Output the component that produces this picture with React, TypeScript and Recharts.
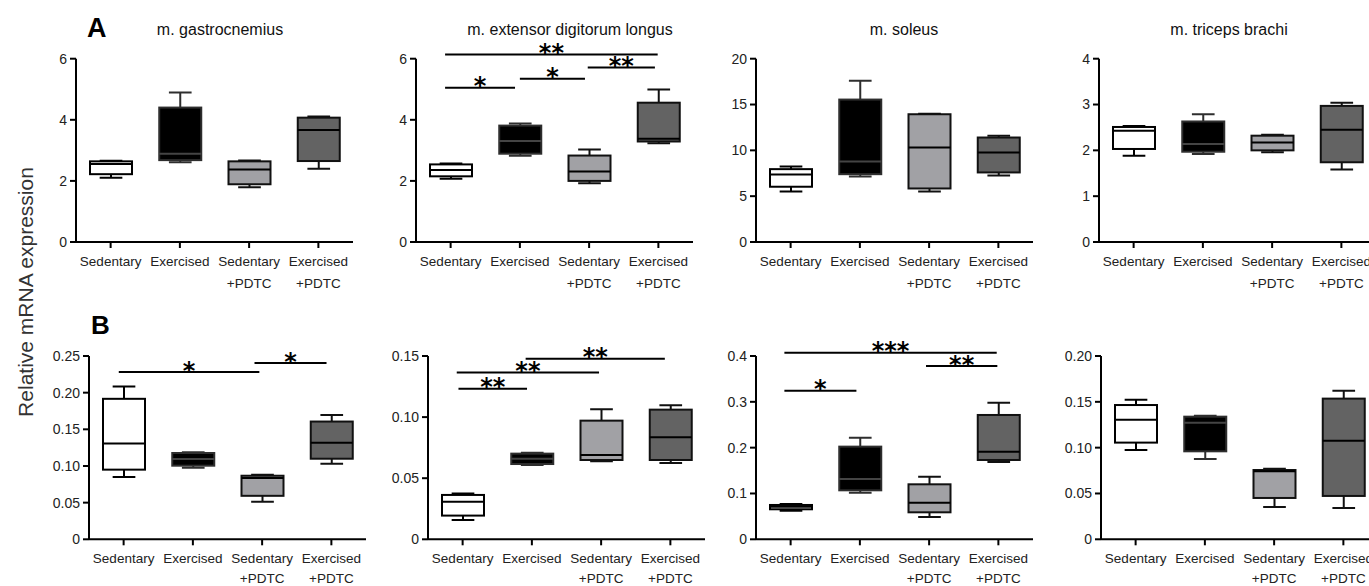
import React from 'react';
import { ComposedChart, Bar, XAxis, YAxis, ReferenceLine } from 'recharts';

// ---------- data ----------
const categories = ['Sedentary', 'Exercised', 'Sedentary|+PDTC', 'Exercised|+PDTC'];

// five-number summaries per group: [min, q1, median, q3, max]
const gastrocnemius = [
  [2.1, 2.22, 2.55, 2.64, 2.66],
  [2.61, 2.68, 2.89, 4.4, 4.89],
  [1.79, 1.89, 2.37, 2.64, 2.67],
  [2.4, 2.65, 3.67, 4.07, 4.11],
];
const extensorDigitorum = [
  [2.07, 2.15, 2.36, 2.54, 2.57],
  [2.82, 2.89, 3.31, 3.81, 3.88],
  [1.92, 2.0, 2.31, 2.83, 3.03],
  [3.23, 3.29, 3.38, 4.56, 4.99],
];
const soleus = [
  [5.52, 6.03, 7.37, 7.95, 8.24],
  [7.15, 7.4, 8.78, 15.54, 17.6],
  [5.52, 5.84, 10.31, 13.94, 14.0],
  [7.26, 7.59, 9.76, 11.4, 11.58],
];
const tricepsBrachi = [
  [1.88, 2.03, 2.43, 2.51, 2.53],
  [1.92, 1.97, 2.14, 2.63, 2.79],
  [1.96, 2.0, 2.17, 2.32, 2.34],
  [1.58, 1.74, 2.45, 2.97, 3.04],
];
const gastrocnemiusB = [
  [0.085, 0.095, 0.1305, 0.1916, 0.2085],
  [0.0976, 0.1004, 0.1095, 0.1177, 0.1186],
  [0.0511, 0.0593, 0.0835, 0.0867, 0.088],
  [0.1031, 0.1099, 0.1318, 0.1606, 0.1697],
];
const extensorDigitorumB = [
  [0.0158, 0.0194, 0.0308, 0.0363, 0.0374],
  [0.0608, 0.0616, 0.066, 0.0701, 0.0709],
  [0.0638, 0.0649, 0.069, 0.0971, 0.1064],
  [0.0625, 0.0649, 0.0835, 0.1061, 0.1096],
];
const soleusB = [
  [0.0625, 0.0655, 0.0713, 0.0749, 0.0771],
  [0.1018, 0.1069, 0.1316, 0.2022, 0.2218],
  [0.0485, 0.0589, 0.08, 0.12, 0.1367],
  [0.1687, 0.1731, 0.1913, 0.2713, 0.2982],
];
const tricepsBrachiB = [
  [0.0975, 0.1055, 0.1305, 0.1465, 0.1524],
  [0.0876, 0.096, 0.1273, 0.1338, 0.1349],
  [0.0353, 0.0451, 0.0742, 0.0756, 0.0771],
  [0.0342, 0.0473, 0.1076, 0.1535, 0.1622],
];

// y ticks and their labels
const ticksA = [0, 2, 4, 6];
const ticksALabels = ['0', '2', '4', '6'];
const ticksSoleus = [0, 5, 10, 15, 20];
const ticksSoleusLabels = ['0', '5', '10', '15', '20'];
const ticksTriceps = [0, 1, 2, 3, 4];
const ticksTricepsLabels = ['0', '1', '2', '3', '4'];
const ticksB1 = [0, 0.05, 0.1, 0.15, 0.2, 0.25];
const ticksB1Labels = ['0', '0.05', '0.10', '0.15', '0.20', '0.25'];
const ticksB2 = [0, 0.05, 0.1, 0.15];
const ticksB2Labels = ['0', '0.05', '0.10', '0.15'];
const ticksB3 = [0, 0.1, 0.2, 0.3, 0.4];
const ticksB3Labels = ['0', '0.1', '0.2', '0.3', '0.4'];
const ticksB4 = [0, 0.05, 0.1, 0.15, 0.2];
const ticksB4Labels = ['0', '0.05', '0.10', '0.15', '0.20'];

// significance brackets: [fromGroup, toGroup, yValue, stars]
const bracketsEDL = [
  [-0.08, 0.93, 5.05, '*'],
  [1.0, 1.94, 5.34, '*'],
  [1.98, 2.95, 5.71, '**'],
  [-0.08, 2.99, 6.14, '**'],
];
const bracketsB1 = [
  [-0.07, 1.96, 0.2281, '*'],
  [1.89, 2.93, 0.2404, '*'],
];
const bracketsB2 = [
  [-0.06, 0.93, 0.1233, '**'],
  [-0.085, 1.97, 0.1364, '**'],
  [0.91, 2.92, 0.1478, '**'],
];
const bracketsB3 = [
  [-0.09, 0.95, 0.3244, '*'],
  [-0.09, 2.976, 0.4073, '***'],
  [1.955, 2.985, 0.378, '**'],
];

const titles = ['m. gastrocnemius', 'm. extensor digitorum longus', 'm. soleus', 'm. triceps brachi'];

// ---------- styles ----------
const FONT = "'Liberation Sans', Arial, Helvetica, sans-serif";
const STAR_FONT = "'DejaVu Sans', sans-serif";
const boxFill = ['#ffffff', '#000000', '#a1a1a5', '#636363'];
const boxStroke = ['#000000', '#2e2e2e', '#111111', '#111111'];
const medianStroke = ['#000000', '#444444', '#000000', '#000000'];

const CHART_W = 357;
const YAXIS_W = 70;

type PanelCfg = {
  stats: number[][];
  ticks: number[];
  tickLabels: string[];
  max: number;
  brackets: any[];
  axisX: number;
  top: number;
  height: number;
  mTop: number;
  mBottom: number;
  lineGap: number;
};

const rowA = { top: 0, height: 300, mTop: 58.7, mBottom: 28, lineGap: 22 };
const rowB = { top: 296, height: 290, mTop: 60, mBottom: 16.7, lineGap: 20 };

const panels: PanelCfg[] = [
  { stats: gastrocnemius, ticks: ticksA, tickLabels: ticksALabels, max: 6, brackets: [], axisX: 76, ...rowA },
  { stats: extensorDigitorum, ticks: ticksA, tickLabels: ticksALabels, max: 6, brackets: bracketsEDL, axisX: 416, ...rowA },
  { stats: soleus, ticks: ticksSoleus, tickLabels: ticksSoleusLabels, max: 20, brackets: [], axisX: 756, ...rowA },
  { stats: tricepsBrachi, ticks: ticksTriceps, tickLabels: ticksTricepsLabels, max: 4, brackets: [], axisX: 1099, ...rowA },
  { stats: gastrocnemiusB, ticks: ticksB1, tickLabels: ticksB1Labels, max: 0.25, brackets: bracketsB1, axisX: 89, ...rowB },
  { stats: extensorDigitorumB, ticks: ticksB2, tickLabels: ticksB2Labels, max: 0.15, brackets: bracketsB2, axisX: 428, ...rowB },
  { stats: soleusB, ticks: ticksB3, tickLabels: ticksB3Labels, max: 0.4, brackets: bracketsB3, axisX: 756, ...rowB },
  { stats: tricepsBrachiB, ticks: ticksB4, tickLabels: ticksB4Labels, max: 0.2, brackets: [], axisX: 1101, ...rowB },
];

const titleCenters = [220, 570, 904, 1229];

// ---------- components ----------
const XTick = (props: any) => {
  const { x, y, payload, lineGap } = props;
  const parts = String(payload.value).split('|');
  return (
    <g transform={`translate(${x},${y})`}>
      <text textAnchor="middle" fontFamily={FONT} fontSize={13.5} fill="#222">
        <tspan x={0} dy={16}>{parts[0]}</tspan>
        {parts[1] ? <tspan x={0} dy={lineGap}>{parts[1]}</tspan> : null}
      </text>
    </g>
  );
};

const BoxShape = (props: any) => {
  const { x, y, width, height, payload } = props;
  let index = props.index;
  if (typeof index !== 'number') index = categories.indexOf(payload.name);
  const [mn, q1, md, q3, mx] = payload.stats as number[];
  const top = Math.min(y, y + height);
  const h = Math.abs(height);
  const px = (v: number) => top + (h * (mx - v)) / (mx - mn);
  const cx = x + width / 2;
  const cap = width * 0.27;
  const st = boxStroke[index];
  return (
    <g>
      <line x1={cx} x2={cx} y1={px(mx)} y2={px(q3)} stroke={st} strokeWidth={2} />
      <line x1={cx} x2={cx} y1={px(q1)} y2={px(mn)} stroke={st} strokeWidth={2} />
      <line x1={cx - cap} x2={cx + cap} y1={px(mx)} y2={px(mx)} stroke={st} strokeWidth={2} />
      <line x1={cx - cap} x2={cx + cap} y1={px(mn)} y2={px(mn)} stroke={st} strokeWidth={2} />
      <rect x={x} y={px(q3)} width={width} height={px(q1) - px(q3)} fill={boxFill[index]} stroke={st} strokeWidth={2} />
      <line x1={x} x2={x + width} y1={px(md)} y2={px(md)} stroke={medianStroke[index]} strokeWidth={2} />
    </g>
  );
};

// bracket drawn between category centres, nudged by fractional group offsets
const Bracket = (props: any) => {
  const { x1, x2, y1, from, to, fi, ti, stars } = props;
  if (![x1, x2, y1].every((v) => typeof v === 'number' && isFinite(v))) return null;
  const band = ti !== fi ? (x2 - x1) / (ti - fi) : 69;
  const a = x1 + (from - fi) * band;
  const b = x2 + (to - ti) * band;
  return (
    <g>
      <line x1={a} x2={b} y1={y1} y2={y1} stroke="#000" strokeWidth={2} />
      <text
        x={(a + b) / 2}
        y={y1 + 6.5}
        textAnchor="middle"
        fontFamily={STAR_FONT}
        fontWeight="bold"
        fontSize={24}
        fill="#000"
      >
        {stars}
      </text>
    </g>
  );
};

const Panel = ({ cfg }: { cfg: PanelCfg }) => {
  const data = categories.map((c, i) => ({
    name: c,
    range: [cfg.stats[i][0], cfg.stats[i][4]],
    stats: cfg.stats[i],
  }));
  const fmt = (v: number) => {
    const i = cfg.ticks.findIndex((t) => Math.abs(t - v) < 1e-9);
    return i >= 0 ? cfg.tickLabels[i] : String(v);
  };
  return (
    <div style={{ position: 'absolute', left: cfg.axisX - YAXIS_W, top: cfg.top, width: CHART_W, height: cfg.height }}>
      <ComposedChart
        width={CHART_W}
        height={cfg.height}
        data={data}
        margin={{ top: cfg.mTop, right: CHART_W - YAXIS_W - 277, bottom: cfg.mBottom, left: 0 }}
      >
        <XAxis
          dataKey="name"
          interval={0}
          height={30}
          tickSize={6}
          tick={(p: any) => <XTick {...p} lineGap={cfg.lineGap} />}
          axisLine={{ stroke: '#000', strokeWidth: 2 }}
          tickLine={{ stroke: '#000', strokeWidth: 2 }}
        />
        <YAxis
          width={YAXIS_W}
          domain={[0, cfg.max]}
          ticks={cfg.ticks}
          interval={0}
          tickSize={6}
          tickMargin={3}
          tickFormatter={fmt}
          tick={{ fontSize: 14, fill: '#222', fontFamily: FONT }}
          axisLine={{ stroke: '#000', strokeWidth: 2 }}
          tickLine={{ stroke: '#000', strokeWidth: 2 }}
          allowDataOverflow
        />
        <Bar dataKey="range" barSize={42} isAnimationActive={false} shape={(p: any) => <BoxShape {...p} />} />
        {cfg.brackets.map((b, k) => {
          const fi = Math.round(b[0]);
          const ti = Math.round(b[1]);
          return (
            <ReferenceLine
              key={k}
              ifOverflow="visible"
              segment={[
                { x: categories[fi], y: b[2] },
                { x: categories[ti], y: b[2] },
              ]}
              shape={(p: any) => <Bracket {...p} from={b[0]} to={b[1]} fi={fi} ti={ti} stars={b[3]} />}
            />
          );
        })}
      </ComposedChart>
    </div>
  );
};

export default function App() {
  return (
    <div style={{ position: 'absolute', left: 0, top: 0, width: 1369, height: 586, background: '#fff', overflow: 'hidden' }}>
      {panels.map((p, i) => (
        <Panel key={i} cfg={p} />
      ))}
      <svg width={1369} height={586} style={{ position: 'absolute', left: 0, top: 0, pointerEvents: 'none' }}>
        <text x={87} y={37} fontFamily={FONT} fontWeight="bold" fontSize={27} fill="#000">A</text>
        <text x={91} y={334} fontFamily={FONT} fontWeight="bold" fontSize={26} fill="#000">B</text>
        {titles.map((t, i) => (
          <text key={i} x={titleCenters[i]} y={35} textAnchor="middle" fontFamily={FONT} fontSize={16} fill="#111">
            {t}
          </text>
        ))}
        <text
          x={33}
          y={292}
          transform="rotate(-90 33 292)"
          textAnchor="middle"
          fontFamily={FONT}
          fontSize={21}
          fill="#333"
        >
          Relative mRNA expression
        </text>
      </svg>
    </div>
  );
}
